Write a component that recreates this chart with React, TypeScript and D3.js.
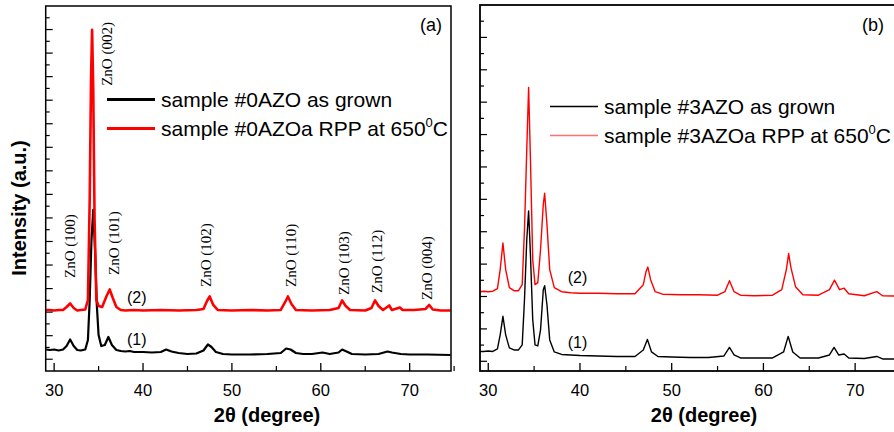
import React from 'react';
import * as d3 from 'd3';

// ---- Panel (a): sample #0AZO ----
const A_ASGROWN: [number, number][] = [
  [29.1, 825], [29.5, 782], [30.0, 825], [30.5, 740], [31.0, 825], [31.4, 1122], [31.8, 1675],
  [32.2, 1122], [32.6, 782], [33.0, 740], [33.5, 825], [33.8, 1632], [34.0, 5032], [34.2, 10132],
  [34.4, 12682], [34.6, 9282], [34.8, 4607], [35.0, 2057], [35.3, 1122], [35.7, 1207], [36.1, 1887],
  [36.5, 1207], [37.0, 782], [37.5, 697], [38.0, 655], [38.5, 697], [39.0, 612], [40.0, 612],
  [41.0, 570], [42.0, 612], [42.6, 825], [43.2, 655], [44.0, 527], [45.0, 442], [46.0, 485],
  [46.8, 740], [47.3, 1250], [47.7, 1037], [48.2, 612], [49.0, 442], [50.0, 400], [52.0, 400],
  [54.0, 442], [55.5, 527], [56.1, 910], [56.6, 825], [57.2, 527], [58.0, 442], [59.0, 442],
  [60.2, 570], [61.0, 442], [62.0, 570], [62.4, 825], [62.9, 655], [63.5, 442], [65.0, 400],
  [66.5, 442], [67.5, 655], [68.0, 570], [69.0, 442], [70.0, 400], [72.0, 400], [74.6, 357],
];
const A_RPP: [number, number][] = [
  [29.1, 4182], [29.5, 4182], [30.0, 4140], [30.5, 4182], [31.0, 4182], [31.4, 4437], [31.8, 4735],
  [32.2, 4352], [32.6, 4140], [33.0, 4182], [33.5, 4225], [33.8, 5032], [34.0, 13532], [34.15, 23732],
  [34.27, 27982], [34.4, 22882], [34.55, 11832], [34.75, 5032], [35.0, 4522], [35.4, 4437],
  [35.9, 5372], [36.25, 5925], [36.6, 5202], [37.0, 4437], [37.5, 4182], [38.0, 4140], [39.0, 4182],
  [40.0, 4140], [42.0, 4182], [44.0, 4140], [46.0, 4182], [46.8, 4267], [47.2, 4947], [47.5, 5330],
  [47.9, 4607], [48.4, 4182], [50.0, 4140], [52.0, 4182], [54.0, 4140], [55.5, 4182], [56.0, 4862],
  [56.3, 5330], [56.7, 4692], [57.2, 4182], [59.0, 4140], [61.0, 4182], [62.0, 4352], [62.4, 4990],
  [62.8, 4522], [63.3, 4182], [65.0, 4140], [65.7, 4352], [66.1, 4990], [66.5, 4522], [67.0, 4182],
  [67.7, 4565], [68.0, 4182], [68.9, 4395], [69.2, 4182], [70.5, 4182], [71.8, 4267], [72.2, 4607],
  [72.6, 4225], [73.5, 4140], [74.6, 4140],
];

// ---- Panel (b): sample #3AZO ----
const B_ASGROWN: [number, number][] = [
  [29.1, 608], [29.5, 608], [30.0, 639], [30.5, 608], [31.0, 763], [31.3, 1631], [31.6, 2778],
  [31.9, 1631], [32.3, 825], [32.8, 701], [33.3, 701], [33.7, 1011], [33.95, 3801], [34.2, 7521],
  [34.4, 9288], [34.6, 6591], [34.85, 2561], [35.1, 1011], [35.4, 949], [35.7, 1941], [36.0, 4421],
  [36.15, 4669], [36.4, 3491], [36.7, 1321], [37.2, 577], [38.0, 422], [39.0, 391], [40.0, 360],
  [42.0, 329], [44.0, 298], [46.0, 298], [46.9, 701], [47.35, 1352], [47.8, 577], [48.5, 298],
  [50.0, 267], [52.0, 236], [54.0, 236], [55.7, 329], [56.3, 856], [56.8, 391], [57.5, 205],
  [59.0, 205], [61.0, 205], [62.2, 577], [62.7, 1538], [63.2, 577], [64.0, 205], [66.0, 205],
  [67.2, 391], [67.7, 856], [68.2, 391], [68.8, 453], [69.3, 205], [71.0, 174], [72.35, 298],
  [73.0, 143], [75.0, 143],
];
const B_RPP: [number, number][] = [
  [29.1, 4297], [29.5, 4328], [30.0, 4297], [30.5, 4328], [31.0, 4483], [31.3, 5661], [31.6, 7304],
  [31.9, 5661], [32.3, 4545], [32.8, 4359], [33.3, 4359], [33.7, 4731], [33.95, 8141], [34.2, 13101],
  [34.4, 16914], [34.6, 12481], [34.85, 6281], [35.1, 4731], [35.4, 4855], [35.7, 6901], [36.0, 9691],
  [36.15, 10373], [36.4, 8451], [36.7, 5661], [37.2, 4545], [38.0, 4297], [39.0, 4235], [40.0, 4204],
  [42.0, 4204], [44.0, 4173], [46.0, 4173], [46.9, 4731], [47.2, 5537], [47.4, 5816], [47.7, 5041],
  [48.2, 4297], [49.0, 4142], [51.0, 4111], [53.0, 4111], [55.0, 4080], [55.8, 4297], [56.3, 4979],
  [56.8, 4297], [57.5, 4080], [59.0, 4049], [61.0, 4080], [62.0, 4421], [62.5, 5661], [62.75, 6653],
  [63.0, 5785], [63.5, 4607], [64.3, 4111], [66.0, 4080], [67.2, 4421], [67.75, 5010], [68.3, 4421],
  [68.8, 4514], [69.3, 4173], [71.0, 4049], [72.35, 4297], [73.0, 4049], [75.0, 4018],
];

const X_MAJOR = [30, 40, 50, 60, 70];
const X_MINOR = [35, 45, 55, 65, 75];

const PEAK_TEXT = ['ZnO (100)', 'ZnO (002)', 'ZnO (101)', 'ZnO (102)', 'ZnO (110)', 'ZnO (103)', 'ZnO (112)', 'ZnO (004)'];
const PEAK_X = [31.79, 35.95, 36.68, 47.09, 56.65, 62.61, 66.27, 72.0];
const PEAK_Y = [6902, 23222, 7157, 6137, 6137, 5457, 5627, 5032];

const LEGEND_A = ['sample #0AZO as grown', 'sample #0AZOa RPP at 650'];
const LEGEND_B = ['sample #3AZO as grown', 'sample #3AZOa RPP at 650'];

const SANS = '"Liberation Sans", Arial, Helvetica, sans-serif';
const SERIF = '"Liberation Serif", "Times New Roman", serif';

type PanelProps = {
  left: number; right: number; top: number; bottom: number;
  xDomain: [number, number]; yDomain: [number, number]; yTickMax: number;
  black: [number, number][]; red: [number, number][];
  lw: number; redLw: number; legend: string[]; legendX: number; legendY: number;
  legendLw: number; legendRed: string; tag: string; tagX: number;
  curveLabelX: number; label2Y: number; label1Y: number; xLabelX: number;
  peaks: boolean; frameW: number;
};

function Panel(p: PanelProps) {
  const x = d3.scaleLinear().domain(p.xDomain).range([p.left, p.right]);
  const y = d3.scaleLinear().domain(p.yDomain).range([p.bottom, p.top]);
  const line = d3.line<[number, number]>().x(d => x(d[0])).y(d => y(d[1]));
  const yTicks = d3.range(0, p.yTickMax + 1, 1000);
  const clipId = 'clip' + p.tag.replace(/[()]/g, '');
  return (
    <g>
      <defs>
        <clipPath id={clipId}>
          <rect x={p.left} y={p.top} width={p.right - p.left} height={p.bottom - p.top} />
        </clipPath>
      </defs>
      <g clipPath={`url(#${clipId})`}>
        <path d={line(p.black) || ''} fill="none" stroke="#000" strokeWidth={p.lw} strokeLinejoin="round" />
        <path d={line(p.red) || ''} fill="none" stroke="#ff0000" strokeWidth={p.redLw} strokeLinejoin="round" />
      </g>
      {/* frame */}
      <rect x={p.left} y={p.top} width={p.right - p.left} height={p.bottom - p.top} fill="none" stroke="#000" strokeWidth={p.frameW} />
      {/* x ticks */}
      {X_MAJOR.map(t => (
        <g key={'M' + t}>
          <line x1={x(t)} x2={x(t)} y1={p.bottom} y2={p.bottom - 8} stroke="#000" strokeWidth={1.3} />
          <text x={x(t)} y={396} textAnchor="middle" fontFamily={SANS} fontSize={16.5}>{t}</text>
        </g>
      ))}
      {X_MINOR.map(t => (
        <line key={'m' + t} x1={x(t)} x2={x(t)} y1={p.bottom} y2={p.bottom - 5} stroke="#000" strokeWidth={1.2} />
      ))}
      {/* y ticks */}
      {yTicks.map((t, i) => (
        <line key={'y' + t} x1={p.left} x2={p.left + (i % 2 === 0 ? 7 : 4)} y1={y(t)} y2={y(t)} stroke="#000" strokeWidth={1.2} />
      ))}
      {/* legend */}
      <line x1={p.legendX} x2={p.legendX + 48} y1={p.legendY} y2={p.legendY} stroke="#000" strokeWidth={p.legendLw} />
      <line x1={p.legendX} x2={p.legendX + 48} y1={p.legendY + 29} y2={p.legendY + 29} stroke={p.legendRed} strokeWidth={p.legendLw} />
      <text x={p.legendX + 54} y={p.legendY + 7} fontFamily={SANS} fontSize={21}>{p.legend[0]}</text>
      <text x={p.legendX + 54} y={p.legendY + 36} fontFamily={SANS} fontSize={21}>
        {p.legend[1]}
        <tspan fontSize={13} dy={-9}>0</tspan>
        <tspan dy={9}>C</tspan>
      </text>
      <text x={p.tagX} y={31} textAnchor="end" fontFamily={SANS} fontSize={18}>{p.tag}</text>
      <text x={x(p.curveLabelX)} y={y(p.label2Y)} fontFamily={SANS} fontSize={16}>(2)</text>
      <text x={x(p.curveLabelX)} y={y(p.label1Y)} fontFamily={SANS} fontSize={16}>(1)</text>
      {p.peaks && PEAK_TEXT.map((t, i) => (
        <text key={t} transform={`translate(${x(PEAK_X[i]) + 5},${y(PEAK_Y[i])}) rotate(-90)`} fontFamily={SERIF} fontSize={15}>{t}</text>
      ))}
      <text x={p.xLabelX} y={422} textAnchor="middle" fontFamily={SANS} fontSize={20} fontWeight="bold">2θ (degree)</text>
    </g>
  );
}

export default function App() {
  return (
    <svg width={894} height={432} style={{ position: 'absolute', left: 0, top: 0, background: '#fff' }}>
      <rect x={0} y={0} width={894} height={432} fill="#fff" />
      <text transform="translate(26,208) rotate(-90)" textAnchor="middle" fontFamily={SANS} fontSize={20} fontWeight="bold">Intensity (a.u.)</text>
      <Panel left={45.7} right={451} top={6} bottom={371} xDomain={[29.05, 74.65]} yDomain={[-1000, 30000]} yTickMax={29000}
        black={A_ASGROWN} red={A_RPP} lw={2.2} redLw={2.6} legend={LEGEND_A} legendX={107} legendY={99.5}
        legendLw={3} legendRed="#ff0000" tag="(a)" tagX={442} curveLabelX={38.2} label2Y={4777} label1Y={1207}
        xLabelX={267} peaks={true} frameW={1.5} />
      <Panel left={480} right={901} top={5} bottom={371} xDomain={[29.1, 75]} yDomain={[-600, 22000]} yTickMax={21000}
        black={B_ASGROWN} red={B_RPP} lw={1.4} redLw={1.4} legend={LEGEND_B} legendX={550} legendY={106.5}
        legendLw={1.6} legendRed="#ff7070" tag="(b)" tagX={884} curveLabelX={38.66} label2Y={4855} label1Y={825}
        xLabelX={704} peaks={false} frameW={1.8} />
    </svg>
  );
}
